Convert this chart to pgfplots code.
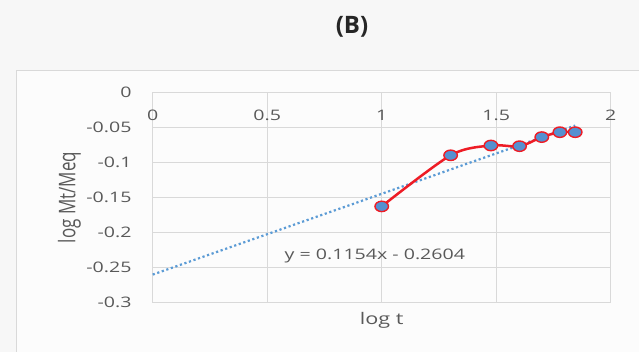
\documentclass[border=0pt]{standalone}
\usepackage{pgfplots}
\pgfplotsset{compat=1.18}
\usepackage{fontspec}
\setmainfont{Open Sans}
\usepackage{graphicx}
\definecolor{tickgray}{HTML}{595959}
\definecolor{gridgray}{HTML}{D9D9D9}
\definecolor{outerbg}{HTML}{F7F7F7}
\definecolor{innerbg}{HTML}{FCFCFC}
\definecolor{trendblue}{HTML}{5B9BD5}
\definecolor{markblue}{HTML}{5590D0}
\definecolor{linered}{HTML}{EE1C25}
\newcommand{\sx}[1]{\scalebox{1.35}[1]{#1}}
\newcommand{\sy}[1]{\scalebox{1}[1.35]{#1}}
\begin{document}
\begin{tikzpicture}[x=1pt,y=1pt]
\useasboundingbox (0,0) rectangle (639,352);
\fill[outerbg] (0,0) rectangle (639,352);
\begin{scope}
\clip (0,0) rectangle (639,352);
\filldraw[draw=gridgray, fill=innerbg, line width=1pt] (16,281) rectangle (700,-20);
\end{scope}
\node[font=\fontsize{24}{27}\selectfont\bfseries, text=black!85] at (352,325) {\scalebox{1.0}[1]{(B)}};
\node[rotate=90, text=tickgray, font=\fontsize{17}{19}\selectfont] at (69.5,154.5) {\sy{log Mt/Meq}};
\begin{axis}[at={(152.7pt,49.7pt)}, anchor=south west,
  width=458pt, height=210pt, scale only axis,
  xmin=0, xmax=2, ymin=-0.3, ymax=0,
  xtick={0,0.5,1,1.5,2},
  xticklabels={\sx{0},\sx{0.5},\sx{1},\sx{1.5},\sx{2}},
  ytick={0,-0.05,-0.1,-0.15,-0.2,-0.25,-0.3},
  yticklabels={\sx{0},\sx{-0.05},\sx{-0.1},\sx{-0.15},\sx{-0.2},\sx{-0.25},\sx{-0.3}},
  axis line style={gridgray, line width=1pt},
  grid=major, major grid style={gridgray, line width=1pt},
  tick style={draw=none},
  xticklabel pos=upper,
  xticklabel style={anchor=center, yshift=-23pt, inner sep=0pt, text=tickgray, font=\fontsize{14.5}{16}\selectfont},
  yticklabel style={anchor=east, xshift=-21pt, inner sep=0pt, text=tickgray, font=\fontsize{14.5}{16}\selectfont},
  xlabel={\sx{log t}},
  xlabel style={at={(axis description cs:0.5,0)}, anchor=center, yshift=-18pt, text=tickgray, font=\fontsize{16}{18}\selectfont},
  clip=false,
]
\addplot[trendblue, line width=2.2pt, dash pattern=on 2.2pt off 2.6pt] coordinates {(0,-0.2604) (1.845,-0.0475)};
\addplot[linered, line width=2.5pt, smooth, tension=0.5, mark=*, mark size=5.2pt,
  mark options={xscale=1.3, fill=markblue, draw=linered, line width=1.4pt, solid}]
  coordinates {(1,-0.163) (1.301,-0.090) (1.477,-0.076) (1.602,-0.077) (1.699,-0.064) (1.778,-0.057) (1.845,-0.057)};
\node[text=tickgray, font=\fontsize{14.5}{16}\selectfont] at (axis cs:0.97,-0.234) {\sx{y = 0.1154x - 0.2604}};
\end{axis}
\end{tikzpicture}
\end{document}
